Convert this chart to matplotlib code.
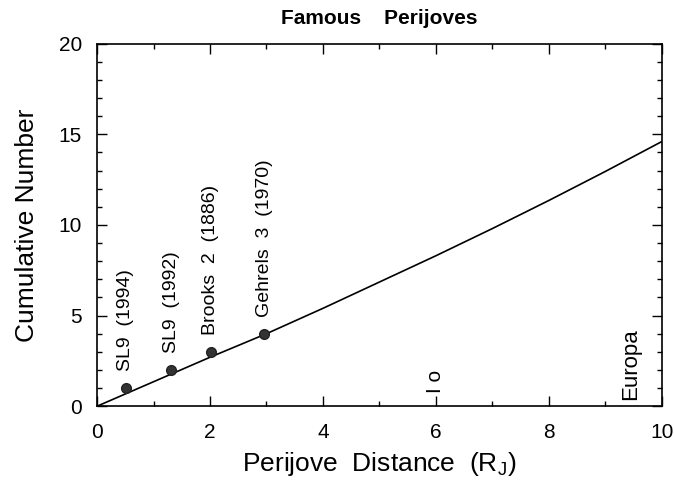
import numpy as np
import matplotlib
matplotlib.use("Agg")
import matplotlib.pyplot as plt
from matplotlib.ticker import MultipleLocator

plt.rcParams['font.family'] = ['Liberation Sans', 'DejaVu Sans']
plt.rcParams['mathtext.fontset'] = 'custom'
plt.rcParams['mathtext.rm'] = 'Liberation Sans'

# famous perijoves (distance in R_J, cumulative count)
comet_names = ["SL9  (1994)", "SL9  (1992)", "Brooks  2  (1886)", "Gehrels  3  (1970)"]
comet_q = [0.51, 1.31, 2.01, 2.96]
comet_n = [1, 2, 3, 4]

# model curve
curve_q = [0, 1, 2, 3, 4, 5, 6, 7, 8, 9, 10]
curve_n = [0, 1.35, 2.7, 4.0, 5.4, 6.85, 8.3, 9.8, 11.35, 12.95, 14.6]

# satellites marked along the axis
moon_names = ["I o", "Europa"]
moon_q = [6.0, 9.45]

fig = plt.figure(figsize=(6.74, 4.9), dpi=100)
ax = fig.add_axes([0.144, 0.171, 0.838, 0.74])

ax.plot(curve_q, curve_n, color='black', lw=1.2)
ax.plot(comet_q, comet_n, 'o', color='#333333', markersize=7, markeredgecolor='#222222')

for name, q, n in zip(comet_names, comet_q, comet_n):
    ax.annotate(name, (q, n), xytext=(0, 12), textcoords='offset points',
                rotation=90, ha='center', va='bottom', fontsize=14)

for name, q, y0, fs in zip(moon_names, moon_q, [0.75, 0.35], [15, 16]):
    ax.text(q, y0, name, rotation=90, ha='center', va='bottom', fontsize=fs)

ax.set_xlim(0, 10)
ax.set_ylim(0, 20)
ax.xaxis.set_major_locator(MultipleLocator(2))
ax.xaxis.set_minor_locator(MultipleLocator(1))
ax.yaxis.set_major_locator(MultipleLocator(5))
ax.yaxis.set_minor_locator(MultipleLocator(1))
ax.tick_params(which='both', direction='in', top=True, right=True, width=1)
ax.tick_params(which='major', length=7, labelsize=15)
ax.tick_params(axis='x', which='major', pad=12)
ax.tick_params(axis='y', which='major', pad=11)
ax.tick_params(which='minor', length=3.5)
for s in ax.spines.values():
    s.set_linewidth(1.2)

ax.set_xlabel(r"Perijove  Distance  (R$_\mathregular{J}$)", fontsize=19, labelpad=6)
ax.set_ylabel("Cumulative Number", fontsize=19, labelpad=14)
ax.set_title("Famous    Perijoves", fontsize=15, fontweight='bold', pad=14)

fig.savefig("out.png", dpi=100)
